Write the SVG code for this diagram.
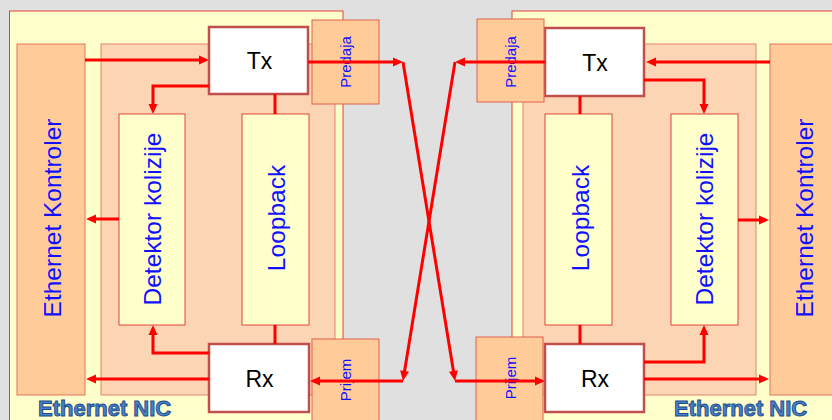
<svg xmlns="http://www.w3.org/2000/svg" width="832" height="420" viewBox="0 0 832 420">
<defs>
<marker id="ah" markerUnits="userSpaceOnUse" markerWidth="10" markerHeight="10" refX="6" refY="4.5" orient="auto" overflow="visible">
<path d="M0,0 L10,4.5 L0,9 Z" fill="#ff0000"/>
</marker>
<style>
.outer{fill:#ffffcc;stroke:#d9443a;stroke-width:1}
.inner{fill:#fcd5b5;stroke:#e2836f;stroke-width:1}
.ctrl{fill:#ffcc99;stroke:#e2735f;stroke-width:1}
.blk{fill:#ffffcc;stroke:#e0453a;stroke-width:1}
.port{fill:#ffcc99;stroke:#e0604e;stroke-width:1}
.trx{fill:#ffffff;stroke:#c0504d;stroke-width:2.5}
.lbl{font-family:"Liberation Sans",Arial,sans-serif;fill:#1010ff;text-anchor:middle}
.big{font-size:24.5px}
.sm{font-size:15px}
.bt{font-family:"Liberation Sans",Arial,sans-serif;font-size:23px;fill:#000;text-anchor:middle}
.nic{font-family:"Liberation Sans",Arial,sans-serif;font-size:22px;font-weight:bold;fill:#4a80c8;stroke:#1b4a8a;stroke-width:0.9}
.c{fill:none;stroke:#ff0000;stroke-width:3}
.ca{fill:none;stroke:#ff0000;stroke-width:3;marker-end:url(#ah)}
</style>
</defs>
<rect x="0" y="0" width="832" height="420" fill="#e0e0e0"/>

<g id="left-nic">
<rect class="outer" x="9.5" y="11" width="333.5" height="420"/>
<rect class="inner" x="101" y="44" width="234" height="351"/>
<text class="nic" x="38" y="416">Ethernet NIC</text>
</g>
<g id="left-kontroler">
<rect class="ctrl" x="17" y="44" width="68" height="351"/>
<text class="lbl big" transform="translate(61,218) rotate(-90)">Ethernet Kontroler</text>
</g>
<g id="left-detektor">
<rect class="blk" x="119" y="114" width="66" height="211"/>
<text class="lbl big" transform="translate(161,219) rotate(-90)">Detektor kolizije</text>
</g>
<g id="left-loopback">
<rect class="blk" x="242" y="114" width="67" height="211"/>
<text class="lbl big" transform="translate(285,218) rotate(-90)">Loopback</text>
</g>
<g id="left-tx">
<rect class="trx" x="209" y="27" width="99" height="67"/>
<text class="bt" x="259.5" y="69">Tx</text>
</g>
<g id="left-rx">
<rect class="trx" x="209" y="344" width="100" height="68"/>
<text class="bt" x="259.5" y="387">Rx</text>
</g>
<g id="left-predaja">
<rect class="port" x="312" y="20" width="67" height="84"/>
<text class="lbl sm" transform="translate(351,62) rotate(-90)">Predaja</text>
</g>
<g id="left-prijem">
<rect class="port" x="312" y="339" width="67" height="90"/>
<text class="lbl sm" transform="translate(351,380) rotate(-90)">Prijem</text>
</g>

<g id="right-nic">
<rect class="outer" x="512" y="11" width="330" height="420"/>
<rect class="inner" x="523" y="44" width="233" height="351"/>
<text class="nic" x="674" y="416">Ethernet NIC</text>
</g>
<g id="right-kontroler">
<rect class="ctrl" x="770" y="44" width="70" height="351"/>
<text class="lbl big" transform="translate(813,218) rotate(-90)">Ethernet Kontroler</text>
</g>
<g id="right-detektor">
<rect class="blk" x="671" y="114" width="67" height="211"/>
<text class="lbl big" transform="translate(713,219) rotate(-90)">Detektor kolizije</text>
</g>
<g id="right-loopback">
<rect class="blk" x="545" y="114" width="67" height="211"/>
<text class="lbl big" transform="translate(589,218) rotate(-90)">Loopback</text>
</g>
<g id="right-tx">
<rect class="trx" x="545" y="28" width="99" height="68"/>
<text class="bt" x="595" y="71">Tx</text>
</g>
<g id="right-rx">
<rect class="trx" x="545" y="344" width="99" height="68"/>
<text class="bt" x="595" y="387">Rx</text>
</g>
<g id="right-predaja">
<rect class="port" x="477" y="19" width="67" height="83"/>
<text class="lbl sm" transform="translate(516,62) rotate(-90)">Predaja</text>
</g>
<g id="right-prijem">
<rect class="port" x="476" y="337" width="67" height="90"/>
<text class="lbl sm" transform="translate(516,378) rotate(-90)">Prijem</text>
</g>

<g id="connectors">
<path class="ca" d="M85,60 H205"/>
<path class="ca" d="M308,62 H399"/>
<path class="ca" d="M209,86 H153 V110"/>
<path class="c" d="M275,94 V114"/>
<path class="c" d="M275,325 V344"/>
<path class="ca" d="M209,353 H153 V329"/>
<path class="ca" d="M209,379 H90"/>
<path class="ca" d="M119,219 H90"/>
<path class="ca" d="M403,381 H314"/>
<path class="ca" d="M403,62 L454.4,377"/>
<path class="ca" d="M455,62 L403.6,377"/>
<path class="ca" d="M770,62 H650"/>
<path class="ca" d="M545,62 H459"/>
<path class="ca" d="M644,80 H704 V110"/>
<path class="c" d="M580,96 V114"/>
<path class="c" d="M580,325 V344"/>
<path class="ca" d="M644,362 H704 V329"/>
<path class="ca" d="M644,379 H765"/>
<path class="ca" d="M738,220 H765"/>
<path class="ca" d="M455,381 H541"/>
</g>
</svg>
